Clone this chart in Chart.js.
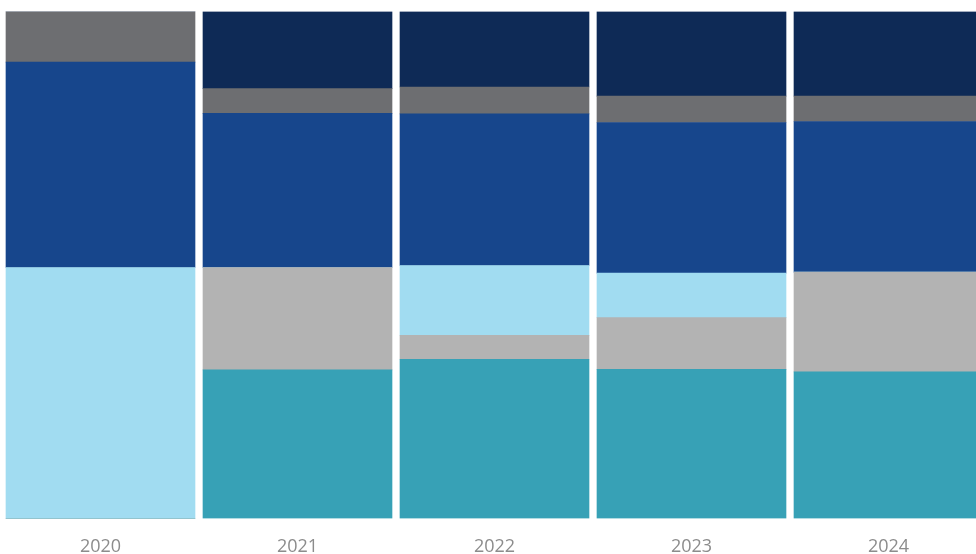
<!DOCTYPE html>
<html>
<head>
<meta charset="utf-8">
<script src="https://cdn.jsdelivr.net/npm/chart.js@4"></script>
<style>
  html, body { margin: 0; padding: 0; background: #ffffff; overflow: hidden; }
  #wrap { width: 976px; height: 554px; overflow: hidden; position: relative; }
  canvas { display: block; }
</style>
</head>
<body>
<div id="wrap"><canvas id="c" width="990" height="568"></canvas></div>
<script>
const categories = ['2020', '2021', '2022', '2023', '2024'];
const seriesTeal      = [0,    29.3, 31.4, 29.4, 28.9];
const seriesLightGray = [0,    20.2, 4.7,  10.2, 19.7];
const seriesLightBlue = [49.5, 0,    13.8, 8.8,  0];
const seriesBlue      = [40.5, 30.4, 29.9, 29.7, 29.7];
const seriesDarkGray  = [10.0, 4.9,  5.3,  5.2,  5.0];
const seriesNavy      = [0,    15.2, 14.9, 16.7, 16.7];

const colors = {
  teal: '#37A1B6',
  lightGray: '#B3B3B3',
  lightBlue: '#A1DCF1',
  blue: '#17468C',
  darkGray: '#6D6E71',
  navy: '#0E2A56'
};

function ds(label, data, color) {
  return {
    label: label,
    data: data,
    backgroundColor: color,
    borderWidth: 0,
    barThickness: 189,
    stack: 's'
  };
}

new Chart(document.getElementById('c'), {
  type: 'bar',
  data: {
    labels: categories,
    datasets: [
      ds('Teal', seriesTeal, colors.teal),
      ds('Light gray', seriesLightGray, colors.lightGray),
      ds('Light blue', seriesLightBlue, colors.lightBlue),
      ds('Blue', seriesBlue, colors.blue),
      ds('Dark gray', seriesDarkGray, colors.darkGray),
      ds('Navy', seriesNavy, colors.navy)
    ]
  },
  options: {
    responsive: false,
    animation: false,
    layout: { padding: { left: 2, right: 3, top: 11.5, bottom: 0 } },
    plugins: { legend: { display: false }, tooltip: { enabled: false } },
    scales: {
      x: {
        stacked: true,
        grid: { display: false },
        border: { display: false },
        ticks: {
          color: '#8C8C8C',
          padding: 10,
          font: { family: '"Open Sans"', size: 18 }
        }
      },
      y: {
        stacked: true,
        display: false,
        min: 0,
        max: 100
      }
    }
  }
});
</script>
</body>
</html>
